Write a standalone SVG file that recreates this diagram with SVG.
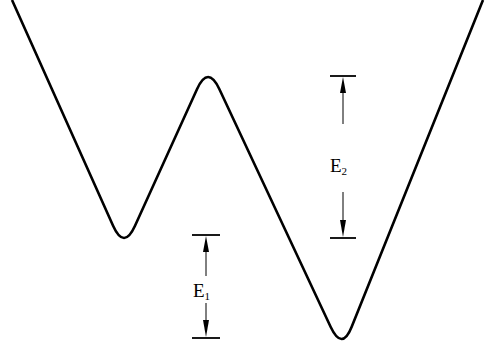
<svg xmlns="http://www.w3.org/2000/svg" width="493" height="346" viewBox="0 0 493 346">
<style>
.curve{fill:none;stroke:#000;stroke-width:2.6;stroke-linejoin:round}
.bar{stroke:#000;stroke-width:1.8}
.dim{stroke:#000;stroke-width:1}
.head{fill:#000}
.lbl{font-family:"Liberation Serif",serif;font-size:19px;fill:#000}
.sub{font-family:"Liberation Serif",serif;font-size:11px;fill:#000}
</style>
<rect width="493" height="346" fill="#fff"/>
<g id="potential">
<path class="curve" d="M12,0 L113.2,226 Q124,250 134.9,226 L197.1,89 Q208,65 219.3,89 L330.7,327 Q342,351 351.6,327 L483,0"/>
</g>
<g id="connectors">
<g id="E1-dim">
<line class="bar" x1="192" y1="235" x2="220" y2="235"/>
<line class="bar" x1="192" y1="338" x2="220" y2="338"/>
<line class="dim" x1="206" y1="250" x2="206" y2="276"/>
<polygon class="head" points="206,236 203,252 209,252"/>
<line class="dim" x1="206" y1="303" x2="206" y2="322"/>
<polygon class="head" points="206,337 203,320 209,320"/>
</g>
<g id="E2-dim">
<line class="bar" x1="330" y1="76" x2="356" y2="76"/>
<line class="bar" x1="330" y1="238" x2="356" y2="238"/>
<line class="dim" x1="343" y1="90" x2="343" y2="124"/>
<polygon class="head" points="343,77 340,93 346,93"/>
<line class="dim" x1="343" y1="192" x2="343" y2="222"/>
<polygon class="head" points="343,237 340,220 346,220"/>
</g>
</g>
<g id="E1-label"><text class="lbl" x="193" y="297">E<tspan class="sub" dy="3">1</tspan></text></g>
<g id="E2-label"><text class="lbl" x="330" y="172">E<tspan class="sub" dy="3">2</tspan></text></g>
</svg>
